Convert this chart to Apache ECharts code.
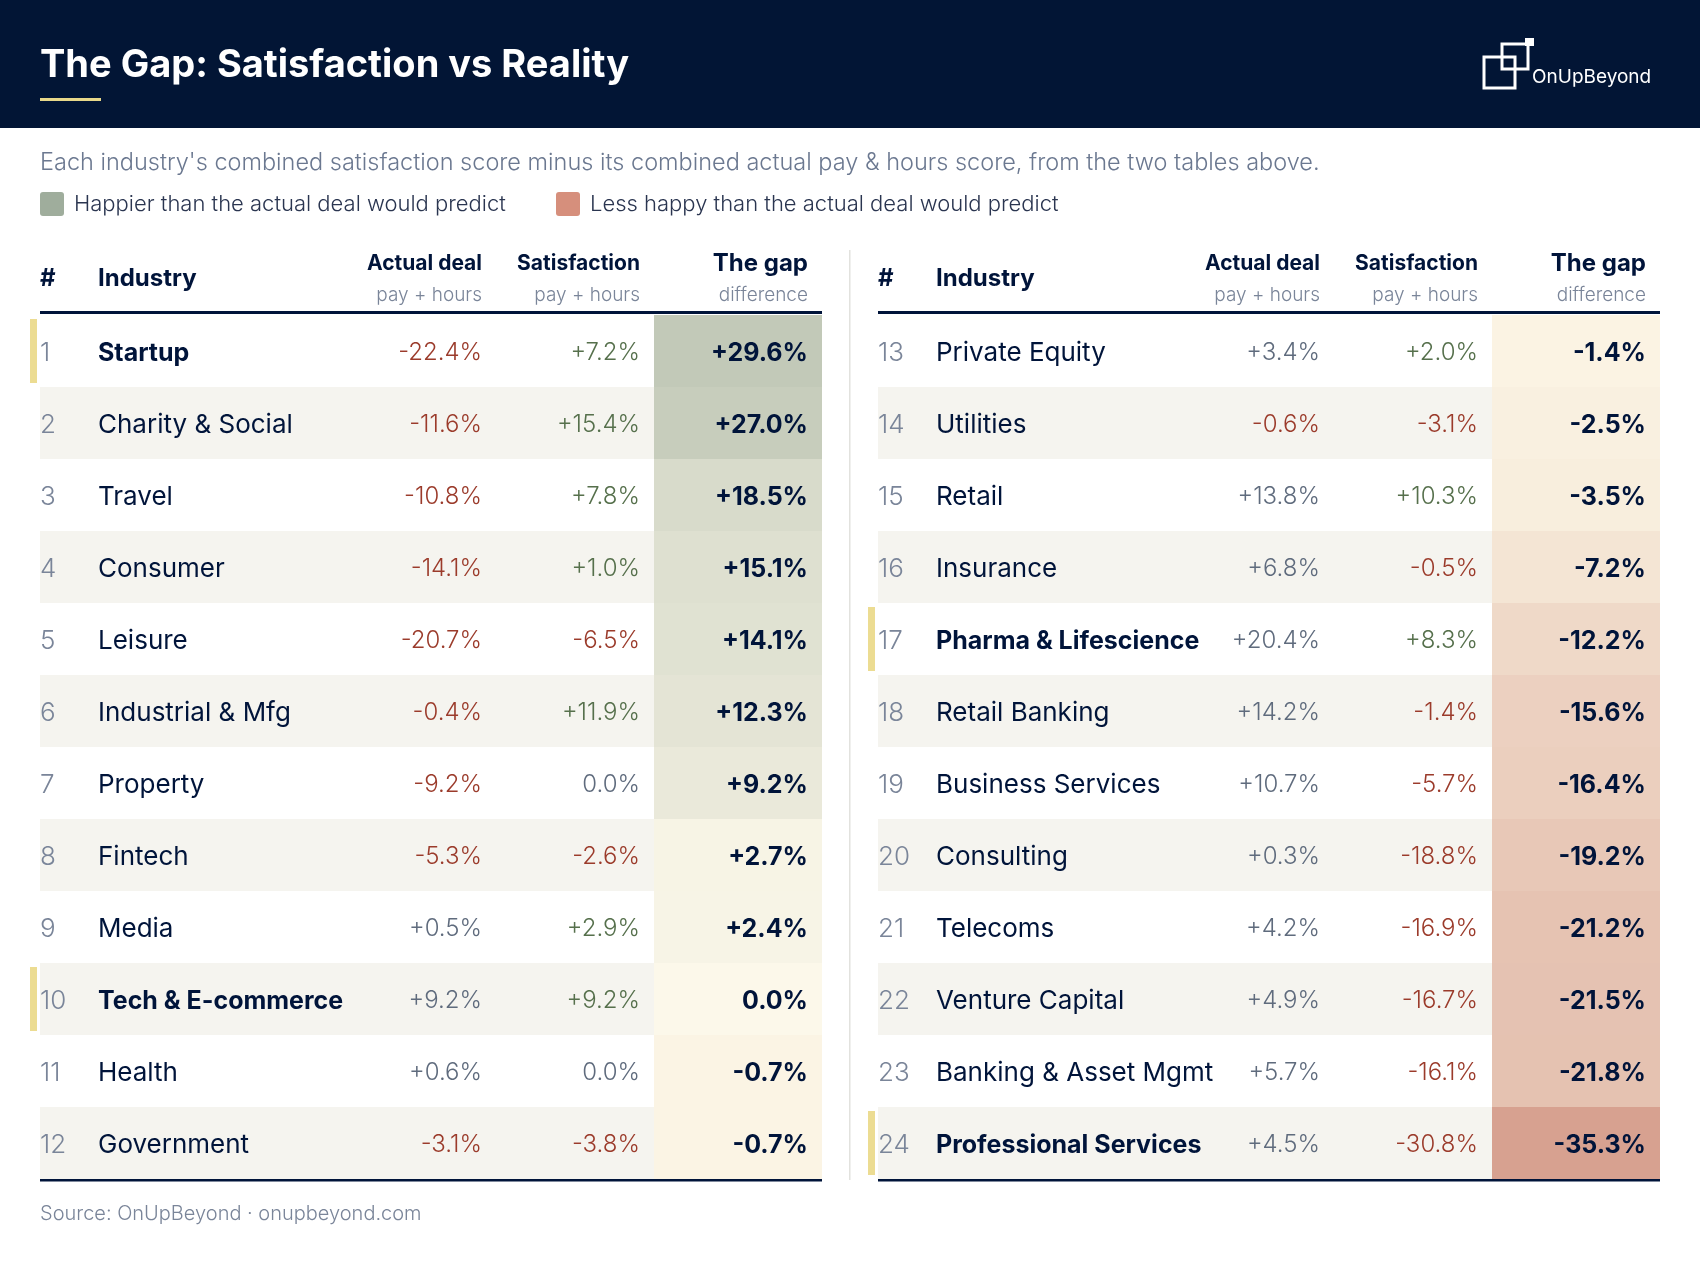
<!DOCTYPE html>
<html><head><meta charset="utf-8">
<script src="https://cdn.jsdelivr.net/npm/echarts@6/dist/echarts.min.js"></script>
<style>html,body{margin:0;padding:0;background:#fff}#c{width:1700px;height:1262px}</style>
</head><body><div id="c"></div>
<script>
const ranks = [1,2,3,4,5,6,7,8,9,10,11,12,13,14,15,16,17,18,19,20,21,22,23,24];
const industries = ["Startup","Charity & Social","Travel","Consumer","Leisure","Industrial & Mfg","Property","Fintech","Media","Tech & E-commerce","Health","Government","Private Equity","Utilities","Retail","Insurance","Pharma & Lifescience","Retail Banking","Business Services","Consulting","Telecoms","Venture Capital","Banking & Asset Mgmt","Professional Services"];
const actualDeal = [-22.4,-11.6,-10.8,-14.1,-20.7,-0.4,-9.2,-5.3,0.5,9.2,0.6,-3.1,3.4,-0.6,13.8,6.8,20.4,14.2,10.7,0.3,4.2,4.9,5.7,4.5];
const satisfaction = [7.2,15.4,7.8,1.0,-6.5,11.9,0.0,-2.6,2.9,9.2,0.0,-3.8,2.0,-3.1,10.3,-0.5,8.3,-1.4,-5.7,-18.8,-16.9,-16.7,-16.1,-30.8];
const gap = [29.6,27.0,18.5,15.1,14.1,12.3,9.2,2.7,2.4,0.0,-0.7,-0.7,-1.4,-2.5,-3.5,-7.2,-12.2,-15.6,-16.4,-19.2,-21.2,-21.5,-21.8,-35.3];
const highlighted = ["Startup","Tech & E-commerce","Pharma & Lifescience","Professional Services"];

const NAVY='#00143a', FONT='Inter';
function fmt(v){ if(v===0) return '0.0%'; return (v>0?'+':'')+v.toFixed(1)+'%'; }
function mix(a,b,t){const pa=a.match(/\w\w/g).map(h=>parseInt(h,16)),pb=b.match(/\w\w/g).map(h=>parseInt(h,16));return 'rgb('+pa.map((x,i)=>Math.round(x+(pb[i]-x)*t)).join(',')+')';}
function gapColor(g){ if(g>=0) return mix('fcf8ea','c2c9b8',Math.min(1,g/29.6)); return mix('fcf6e6','d7a190',Math.min(1,-g/35.3)); }

const rowsL = ranks.slice(0,12).map(r=>r-1), rowsR = ranks.slice(12).map(r=>r-1);
const W = 782;
function render(params, api){
  const i = api.value(0), k = api.value(1);
  const p0 = api.coord([0,k]), p1 = api.coord([W,k]);
  const h = api.size([0,1])[1];
  const top = p0[1]-h/2, cy = p0[1]+2, x0=p0[0];
  const sx = (p1[0]-p0[0])/W;
  const X = v=>x0+v*sx;
  const bold = highlighted.includes(industries[i]);
  const ch = [];
  if(k%2===1) ch.push({type:'rect',shape:{x:X(0),y:top,width:X(614)-X(0),height:h},style:{fill:'#f5f4ef'}});
  ch.push({type:'rect',shape:{x:X(614),y:top,width:X(782)-X(614),height:h},style:{fill:gapColor(gap[i])}});
  if(bold) ch.push({type:'rect',shape:{x:X(-10),y:top+4,width:7,height:h-8},style:{fill:'#ecdc92'}});
  ch.push({type:'text',style:{x:X(0),y:cy,text:String(ranks[i]),fill:'#7a8599',font:'300 26px '+FONT,verticalAlign:'middle'}});
  ch.push({type:'text',style:{x:X(58),y:cy,text:industries[i],fill:NAVY,font:(bold?'700 25px ':'400 26px ')+FONT,verticalAlign:'middle'}});
  const ad=actualDeal[i], sa=satisfaction[i];
  ch.push({type:'text',style:{x:X(442),y:cy,text:fmt(ad),fill:ad<0?'#9b3b2b':'#5f6b7d',font:'300 24px '+FONT,align:'right',verticalAlign:'middle'}});
  ch.push({type:'text',style:{x:X(600),y:cy,text:fmt(sa),fill:sa<0?'#9b3b2b':(sa>0?'#56704c':'#5f6b7d'),font:'300 24px '+FONT,align:'right',verticalAlign:'middle'}});
  ch.push({type:'text',style:{x:X(768),y:cy,text:fmt(gap[i]),fill:NAVY,font:'700 25px '+FONT,align:'right',verticalAlign:'middle'}});
  return {type:'group',children:ch};
}
function headers(ox){
  const t=[];
  const b=(x,y,s,al,sz)=>t.push({type:'text',style:{x:ox+x,y,text:s,fill:NAVY,font:'700 '+(sz||21)+'px '+FONT,align:al||'left',verticalAlign:'middle'}});
  const l=(x,y,s)=>t.push({type:'text',style:{x:ox+x,y,text:s,fill:'#7a8599',font:'300 19px '+FONT,align:'right',verticalAlign:'middle'}});
  b(0,279,'#','left',24); b(58,279,'Industry','left',24);
  b(442,264,'Actual deal','right'); b(600,264,'Satisfaction','right'); b(768,264,'The gap','right',24);
  l(442,295,'pay + hours'); l(600,295,'pay + hours'); l(768,295,'difference');
  t.push({type:'rect',shape:{x:ox,y:311,width:782,height:3},style:{fill:NAVY}});
  t.push({type:'rect',shape:{x:ox,y:1179,width:782,height:2.5},style:{fill:NAVY}});
  return t;
}
const chart = echarts.init(document.getElementById('c'));
const gridDef=(left)=>({left,top:315,width:782,height:864});
chart.setOption({
  animation:false,
  grid:[gridDef(40),gridDef(878)],
  xAxis:[0,1].map(g=>({type:'value',gridIndex:g,min:0,max:W,show:false})),
  yAxis:[0,1].map(g=>({type:'category',gridIndex:g,inverse:true,data:[0,1,2,3,4,5,6,7,8,9,10,11],show:false})),
  series:[
    {type:'custom',xAxisIndex:0,yAxisIndex:0,renderItem:render,data:rowsL.map((r,k)=>[r,k]),encode:{x:-1,y:1}},
    {type:'custom',xAxisIndex:1,yAxisIndex:1,renderItem:render,data:rowsR.map((r,k)=>[r,k]),encode:{x:-1,y:1}}
  ],
  graphic:[
    {type:'rect',shape:{x:0,y:0,width:1700,height:128},style:{fill:'#021535'}},
    {type:'text',style:{x:40,y:66,text:'The Gap: Satisfaction vs Reality',fill:'#fff',font:'700 38px '+FONT,verticalAlign:'middle'}},
    {type:'rect',shape:{x:40,y:98,width:61,height:3},style:{fill:'#e8d88a'}},
    {type:'rect',shape:{x:1484,y:57,width:31,height:31},style:{fill:'none',stroke:'#fff',lineWidth:3}},
    {type:'rect',shape:{x:1502,y:44,width:26,height:25},style:{fill:'none',stroke:'#fff',lineWidth:3}},
    {type:'rect',shape:{x:1525,y:38,width:9,height:8},style:{fill:'#fff'}},
    {type:'text',style:{x:1532,y:77,text:'OnUpBeyond',fill:'#fff',font:'400 19px '+FONT,verticalAlign:'middle'}},
    {type:'text',style:{x:40,y:163,text:"Each industry's combined satisfaction score minus its combined actual pay & hours score, from the two tables above.",fill:'#6b7890',font:'300 23.5px '+FONT,verticalAlign:'middle'}},
    {type:'rect',shape:{x:40,y:192,width:24,height:24,r:3},style:{fill:'#9fad9c'}},
    {type:'text',style:{x:74,y:204,text:'Happier than the actual deal would predict',fill:'#2a3550',font:'300 22px '+FONT,verticalAlign:'middle'}},
    {type:'rect',shape:{x:556,y:192,width:24,height:24,r:3},style:{fill:'#d68f7c'}},
    {type:'text',style:{x:590,y:204,text:'Less happy than the actual deal would predict',fill:'#2a3550',font:'300 22px '+FONT,verticalAlign:'middle'}},
    {type:'rect',shape:{x:849,y:250,width:1.5,height:930},style:{fill:'#e2e2de'}},
    ...headers(40),...headers(878),
    {type:'text',style:{x:40,y:1214,text:'Source: OnUpBeyond · onupbeyond.com',fill:'#7a8599',font:'300 20px '+FONT,verticalAlign:'middle'}}
  ]
});
</script></body></html>
